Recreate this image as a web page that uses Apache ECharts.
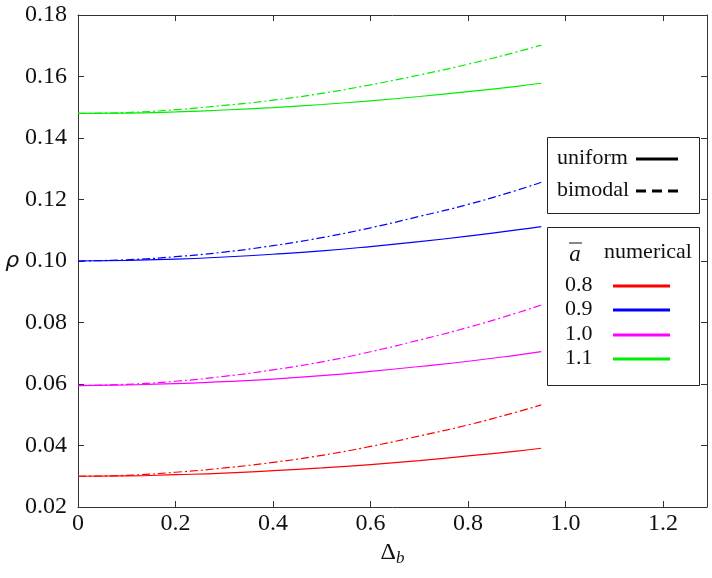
<!DOCTYPE html>
<html>
<head>
<meta charset="utf-8">
<script src="https://cdn.jsdelivr.net/npm/echarts@6/dist/echarts.min.js"></script>
<style>html,body{margin:0;padding:0;background:#fff}#c{width:712px;height:578px}</style>
</head>
<body>
<div id="c"></div>
<script>
var xVals = [0, 0.1, 0.2, 0.3, 0.4, 0.5, 0.6, 0.7, 0.8, 0.9, 0.95];
var aLabels = ['0.8', '0.9', '1.0', '1.1'];
var colors = ['#ff0000', '#0000ff', '#ff00ff', '#00ee00'];
var uniform08 = [0.0300,0.0301,0.0305,0.0310,0.0318,0.0327,0.0338,0.0351,0.0366,0.0382,0.0391];
var bimodal08 = [0.0300,0.0303,0.0313,0.0327,0.0345,0.0368,0.0397,0.0431,0.0467,0.0509,0.0532];
var uniform09 = [0.1000,0.1002,0.1006,0.1013,0.1022,0.1033,0.1047,0.1063,0.1081,0.1101,0.1112];
var bimodal09 = [0.1000,0.1004,0.1014,0.1029,0.1050,0.1076,0.1108,0.1145,0.1184,0.1230,0.1256];
var uniform10 = [0.0595,0.0597,0.0601,0.0608,0.0616,0.0627,0.0641,0.0657,0.0674,0.0694,0.0705];
var bimodal10 = [0.0595,0.0599,0.0609,0.0625,0.0646,0.0672,0.0705,0.0743,0.0784,0.0831,0.0857];
var uniform11 = [0.1480,0.1481,0.1485,0.1491,0.1499,0.1509,0.1521,0.1535,0.1551,0.1568,0.1578];
var bimodal11 = [0.1480,0.1483,0.1492,0.1506,0.1523,0.1545,0.1573,0.1605,0.1640,0.1680,0.1702];
var uniformSets = [uniform08, uniform09, uniform10, uniform11];
var bimodalSets = [bimodal08, bimodal09, bimodal10, bimodal11];

var FONT = 'Liberation Serif';
var axisCol = '#333';

function pairs(ys) { return xVals.map(function (x, i) { return [x, ys[i]]; }); }

var series = [];
for (var i = 0; i < 4; i++) {
  series.push({ type: 'line', name: 'uniform ' + aLabels[i], data: pairs(uniformSets[i]), showSymbol: false, smooth: true,
    lineStyle: { color: colors[i], width: 1.2 }, silent: true });
  series.push({ type: 'line', name: 'bimodal ' + aLabels[i], data: pairs(bimodalSets[i]), showSymbol: false, smooth: true,
    lineStyle: { color: colors[i], width: 1.2, type: [8, 3, 2, 3] }, silent: true });
}

var chart = echarts.init(document.getElementById('c'), null, { renderer: 'canvas' });

var LF = '22px "' + FONT + '"';
var graphics = [];
// legend box 1
graphics.push({ type: 'rect', shape: { x: 547.5, y: 137.5, width: 152, height: 76 }, style: { fill: '#fff', stroke: '#222', lineWidth: 1 }, z: 100 });
graphics.push({ type: 'text', x: 557, y: 158, style: { text: 'uniform', font: LF, fill: '#111', verticalAlign: 'middle' }, z: 101 });
graphics.push({ type: 'line', shape: { x1: 636, y1: 159, x2: 678, y2: 159 }, style: { stroke: '#000', lineWidth: 3 }, z: 101 });
graphics.push({ type: 'text', x: 557, y: 190, style: { text: 'bimodal', font: LF, fill: '#111', verticalAlign: 'middle' }, z: 101 });
graphics.push({ type: 'line', shape: { x1: 636, y1: 191, x2: 678, y2: 191 }, style: { stroke: '#000', lineWidth: 3, lineDash: [10, 6] }, z: 101 });
// legend box 2
graphics.push({ type: 'rect', shape: { x: 547.5, y: 227.5, width: 152, height: 158 }, style: { fill: '#fff', stroke: '#222', lineWidth: 1 }, z: 100 });
graphics.push({ type: 'text', x: 575, y: 255, style: { text: 'a', font: 'italic 23px "' + FONT + '"', fill: '#111', align: 'center', verticalAlign: 'middle' }, z: 101 });
graphics.push({ type: 'line', shape: { x1: 569, y1: 243, x2: 582, y2: 243 }, style: { stroke: '#111', lineWidth: 1 }, z: 101 });
graphics.push({ type: 'text', x: 604, y: 252, style: { text: 'numerical', font: LF, fill: '#111', verticalAlign: 'middle' }, z: 101 });
var rowY = [285, 309, 334, 358];
for (var k = 0; k < 4; k++) {
  graphics.push({ type: 'text', x: 565, y: rowY[k], style: { text: aLabels[k], font: LF, fill: '#111', verticalAlign: 'middle' }, z: 101 });
  graphics.push({ type: 'line', shape: { x1: 613, y1: rowY[k] + 1, x2: 670, y2: rowY[k] + 1 }, style: { stroke: colors[k], lineWidth: 3 }, z: 101 });
}

var xLabelFmt = function (v) { return v === 0 ? '0' : v.toFixed(1); };
var yLabelFmt = function (v) { return v.toFixed(2); };

chart.setOption({
  animation: false,
  backgroundColor: '#fff',
  grid: { left: 78, right: 5, top: 15, bottom: 71, containLabel: false },
  xAxis: [
    { type: 'value', min: 0, max: 1.29, interval: 0.2, position: 'bottom',
      name: '{d|Δ}{s|b}', nameLocation: 'middle', nameGap: 31,
      nameTextStyle: { rich: { d: { fontFamily: FONT, fontSize: 24, color: '#111' }, s: { fontFamily: FONT, fontStyle: 'italic', fontSize: 17, color: '#111', verticalAlign: 'bottom', padding: [12, 0, 0, 0] } } },
      axisLine: { show: true, onZero: false, lineStyle: { color: axisCol, width: 1 } },
      axisTick: { show: true, inside: true, length: 6, lineStyle: { color: axisCol } },
      axisLabel: { formatter: xLabelFmt, fontFamily: FONT, fontSize: 24, color: '#111', margin: 5, showMaxLabel: false },
      splitLine: { show: false } },
    { type: 'value', min: 0, max: 1.29, interval: 0.2, position: 'top',
      axisLine: { show: true, onZero: false, lineStyle: { color: axisCol, width: 1 } },
      axisTick: { show: true, inside: true, length: 6, lineStyle: { color: axisCol } },
      axisLabel: { show: false }, splitLine: { show: false } }
  ],
  yAxis: [
    { type: 'value', min: 0.02, max: 0.18, interval: 0.02, position: 'left',
      name: 'ρ', nameLocation: 'middle', nameGap: 58, nameRotate: 0,
      nameTextStyle: { fontFamily: 'DejaVu Sans', fontStyle: 'italic', fontSize: 22, color: '#111' },
      axisLine: { show: true, onZero: false, lineStyle: { color: axisCol, width: 1 } },
      axisTick: { show: true, inside: true, length: 6, lineStyle: { color: axisCol } },
      axisLabel: { formatter: yLabelFmt, fontFamily: FONT, fontSize: 24, color: '#111', margin: 11 },
      splitLine: { show: false } },
    { type: 'value', min: 0.02, max: 0.18, interval: 0.02, position: 'right',
      axisLine: { show: true, onZero: false, lineStyle: { color: axisCol, width: 1 } },
      axisTick: { show: true, inside: true, length: 6, lineStyle: { color: axisCol } },
      axisLabel: { show: false }, splitLine: { show: false } }
  ],
  series: series,
  graphic: graphics
});
</script>
</body>
</html>
